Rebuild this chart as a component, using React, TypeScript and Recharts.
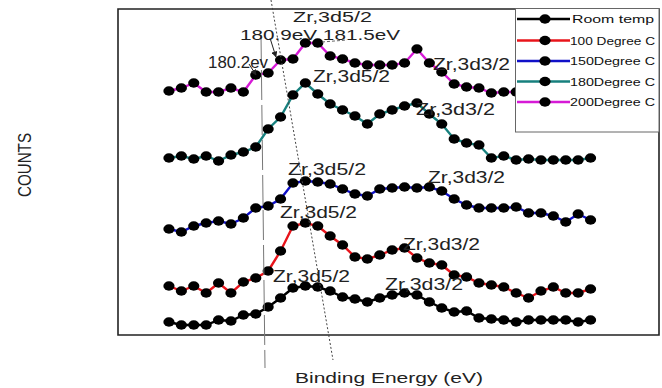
import React from "react";
import { LineChart, Line, XAxis, YAxis, ReferenceArea } from "recharts";

// scan channel (points are evenly spaced in binding energy, no tick labels on the axis)
const channel = [
  0, 1, 2, 3, 4, 5, 6, 7, 8, 9, 10, 11, 12, 13, 14, 15, 16, 17, 18, 19, 20, 21, 22, 23, 24,
  25, 26, 27, 28, 29, 30, 31, 32, 33, 34,
];

// counts, offset per temperature so the spectra stack
const roomTemp = [13, 10, 10, 10, 15, 14, 20, 21, 28, 37, 47, 49, 48, 44, 38, 36, 33, 37, 40, 42, 40, 33, 27, 23, 24, 17, 16, 15, 13, 15, 15, 15, 15, 13, 15];
const deg100 = [49, 44, 49, 42, 52, 42, 53, 57, 64, 84, 109, 112, 109, 99, 90, 78, 76, 80, 85, 87, 77, 72, 70, 60, 58, 52, 50, 48, 42, 37, 44, 48, 42, 42, 46];
const deg150 = [106, 103, 109, 112, 114, 111, 117, 127, 129, 136, 152, 154, 153, 151, 146, 141, 139, 146, 147, 148, 147, 148, 144, 136, 130, 127, 127, 127, 128, 122, 122, 119, 113, 121, 115];
const deg180 = [177, 179, 176, 179, 174, 180, 183, 188, 206, 218, 240, 252, 241, 231, 225, 219, 211, 221, 225, 229, 232, 221, 211, 196, 192, 190, 177, 179, 175, 176, 175, 175, 175, 175, 177];
const deg200 = [244, 247, 252, 243, 243, 247, 243, 260, 262, 275, 276, 292, 292, 279, 276, 272, 270, 270, 270, 272, 286, 272, 263, 251, 248, 247, 242, 243, 243];

const seriesNames = ["Room temp", "100 Degree C", "150Degree C", "180Degree C", "200Degree C"];
const seriesKeys = ["rt", "c100", "c150", "c180", "c200"];
const seriesColors = ["#000000", "#e8141b", "#1010c8", "#17807e", "#d61ad6"];

const rows = channel.map((c, i) => ({
  ch: c,
  rt: roomTemp[i],
  c100: deg100[i],
  c150: deg150[i],
  c180: deg180[i],
  c200: deg200[i],
}));

const X_DOMAIN: [number, number] = [-4.11, 39.52];
const Y_DOMAIN: [number, number] = [0, 326];
const FONT = "'Liberation Sans', Arial, sans-serif";

// peak labels: left x, baseline y, stretched width
const peakLabels = [
  { text: "Zr,3d5/2", x: 293, y: 21.5, w: 79, size: 15.5 },
  { text: "Zr,3d3/2", x: 433, y: 70, w: 77, size: 16 },
  { text: "Zr,3d5/2", x: 313, y: 82, w: 77, size: 16 },
  { text: "Zr,3d3/2", x: 416, y: 115, w: 79, size: 16 },
  { text: "Zr,3d5/2", x: 288, y: 175, w: 78, size: 16 },
  { text: "Zr,3d3/2", x: 428, y: 183, w: 77, size: 16 },
  { text: "Zr,3d5/2", x: 280, y: 218, w: 77, size: 16 },
  { text: "Zr,3d3/2", x: 403, y: 250, w: 77, size: 16 },
  { text: "Zr,3d5/2", x: 273, y: 282, w: 77, size: 16 },
  { text: "Zr,3d3/2", x: 385, y: 290, w: 78, size: 16 },
  { text: "180.9eV 181.5eV", x: 240, y: 39.5, w: 160, size: 15.5 },
  { text: "180.2ev", x: 208, y: 68, w: 60, size: 16 },
];

function EllipseDot(props: any) {
  const { cx, cy, index } = props;
  if (cx == null || cy == null || Number.isNaN(cy)) return <g key={index} />;
  return <ellipse key={index} cx={cx} cy={cy} rx={5.6} ry={4.7} fill="#000" />;
}

function Overlay() {
  const rowY = [19, 40.5, 61, 81.5, 102];
  return (
    <svg
      width={662}
      height={388}
      style={{ position: "absolute", left: 0, top: 0, pointerEvents: "none" }}
    >
      <defs>
        <marker id="arrow" viewBox="0 0 10 10" refX="9" refY="5" markerWidth="6" markerHeight="6" orient="auto">
          <path d="M0,0 L10,5 L0,10 z" fill="#222" />
        </marker>
      </defs>

      {/* guide lines */}
      <line x1={261} y1={35} x2={265} y2={368} stroke="#777" strokeWidth={1} strokeDasharray="30 5" />
      <line x1={271} y1={0} x2={333} y2={360} stroke="#444" strokeWidth={1} strokeDasharray="2 2" />
      <line x1={270} y1={38} x2={276} y2={57} stroke="#222" strokeWidth={1} markerEnd="url(#arrow)" />
      <line x1={249} y1={64} x2={256} y2={75} stroke="#222" strokeWidth={1} markerEnd="url(#arrow)" />
      <line x1={322} y1={42} x2={347} y2={40} stroke="#666" strokeWidth={1} strokeDasharray="3 2" />

      {peakLabels.map((l, i) => (
        <text
          key={i}
          x={l.x}
          y={l.y}
          fontSize={l.size}
          fontFamily={FONT}
          fill="#222"
          textLength={l.w}
          lengthAdjust="spacingAndGlyphs"
        >
          {l.text}
        </text>
      ))}

      {/* legend */}
      <rect x={515.5} y={8.5} width={143.5} height={123.5} fill="#fff" stroke="#666" strokeWidth={1} />
      {seriesNames.map((name, i) => (
        <g key={name}>
          <line x1={517} y1={rowY[i]} x2={570} y2={rowY[i]} stroke={seriesColors[i]} strokeWidth={2.4} />
          <ellipse cx={545} cy={rowY[i]} rx={5.6} ry={4.7} fill="#000" />
          <text
            x={i === 0 ? 572 : 570}
            y={rowY[i] + 4}
            fontSize={11.5}
            fontFamily={FONT}
            fill="#111"
            textLength={i === 0 ? 82 : 85}
            lengthAdjust="spacingAndGlyphs"
          >
            {name}
          </text>
        </g>
      ))}

      {/* axis titles */}
      <text
        x={389}
        y={383}
        textAnchor="middle"
        fontSize={14}
        fontFamily={FONT}
        fill="#222"
        textLength={188}
        lengthAdjust="spacingAndGlyphs"
      >
        Binding Energy (eV)
      </text>
      <text
        transform="translate(31,165) rotate(-90)"
        textAnchor="middle"
        fontSize={18.5}
        fontFamily={FONT}
        fill="#222"
        textLength={64}
        lengthAdjust="spacingAndGlyphs"
      >
        COUNTS
      </text>
    </svg>
  );
}

export default function App() {
  return (
    <div style={{ position: "absolute", left: 0, top: 0, width: 662, height: 388, background: "#fff" }}>
      <LineChart width={662} height={388} data={rows} margin={{ top: 9, right: 3, left: 118, bottom: 53 }}>
        <XAxis dataKey="ch" type="number" domain={X_DOMAIN} allowDataOverflow hide />
        <YAxis type="number" domain={Y_DOMAIN} allowDataOverflow hide />
        <ReferenceArea
          x1={X_DOMAIN[0]}
          x2={X_DOMAIN[1]}
          y1={Y_DOMAIN[0]}
          y2={Y_DOMAIN[1]}
          fill="none"
          stroke="#222"
          strokeWidth={1.6}
          fillOpacity={0}
        />
        {seriesKeys.map((k, i) => (
          <Line
            key={k}
            type="linear"
            dataKey={k}
            stroke={seriesColors[i]}
            strokeWidth={2.4}
            dot={EllipseDot}
            activeDot={false}
            isAnimationActive={false}
          />
        ))}
      </LineChart>
      <Overlay />
    </div>
  );
}
